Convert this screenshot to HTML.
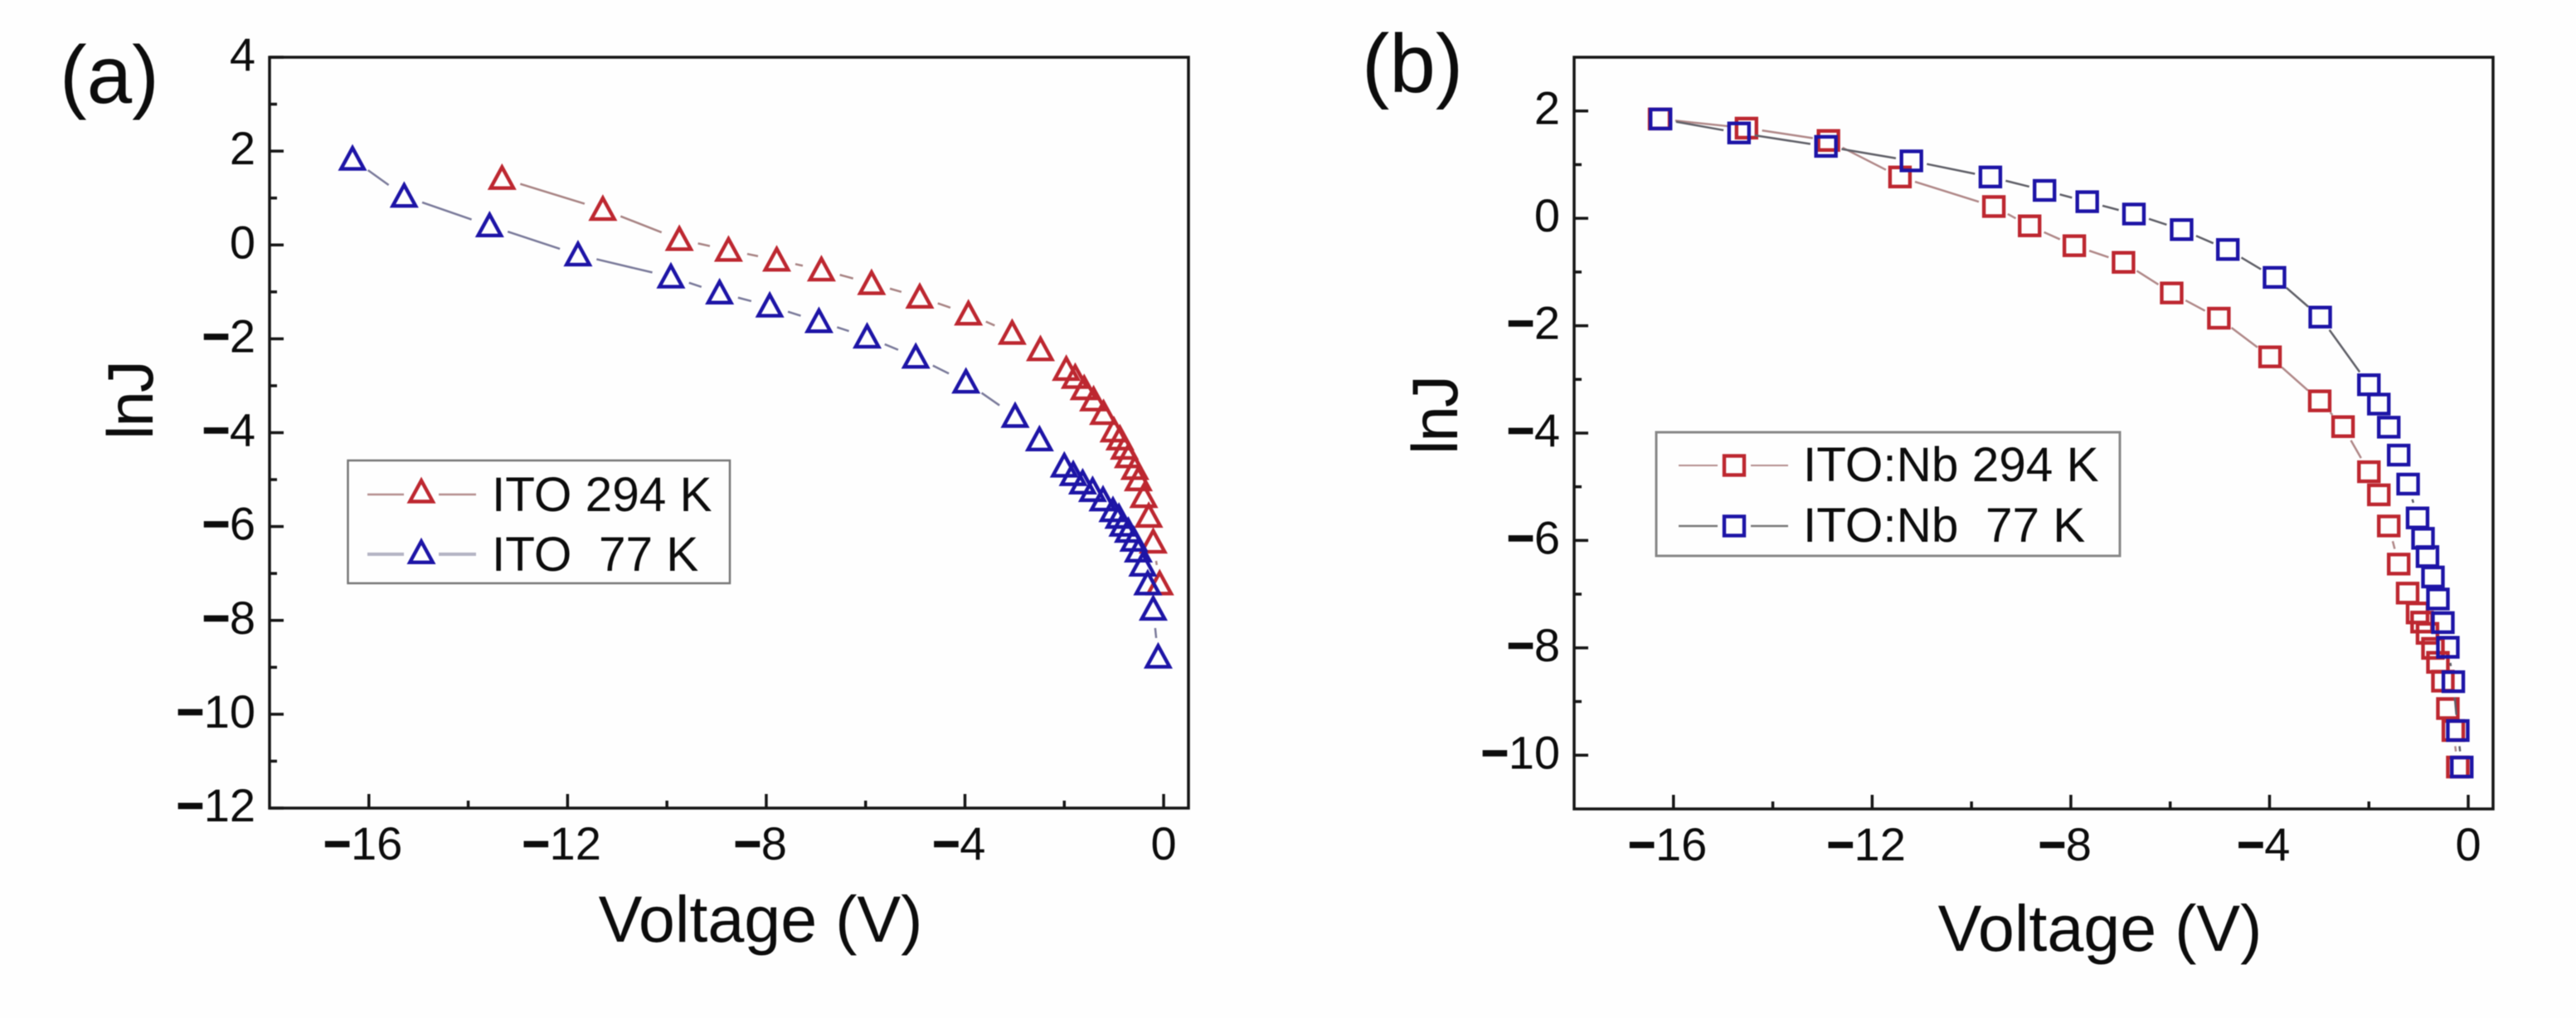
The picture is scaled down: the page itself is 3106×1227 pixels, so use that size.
<!DOCTYPE html>
<html lang="en">
<head>
<meta charset="utf-8">
<title>lnJ versus voltage for ITO and ITO:Nb</title>
<style>
  html, body { margin: 0; padding: 0; background: #fff; }
  svg { display: block; filter: blur(0.6px); }
  text { font-family: "Liberation Sans", Arial, sans-serif; fill: #0c0c0c; white-space: pre; }
</style>
</head>
<body>
<svg id="figure" xmlns="http://www.w3.org/2000/svg" width="3106" height="1227" viewBox="0 0 3106 1227">
  <rect width="3106" height="1227" fill="#fefefe"/>
  <text x="72" y="124" font-size="98">(a)</text>
  <text x="1642" y="111" font-size="100">(b)</text>
  <text x="917" y="1135" font-size="79" text-anchor="middle">Voltage (V)</text>
  <text x="2532" y="1146" font-size="79" text-anchor="middle">Voltage (V)</text>
  <text transform="translate(184 483) rotate(-90)" font-size="78" letter-spacing="-2" text-anchor="middle">lnJ</text>
  <text transform="translate(1757 501) rotate(-90)" font-size="78" letter-spacing="-2" text-anchor="middle">lnJ</text>
  <g id="panel-a"></g>
  <g id="panel-b"></g>
  <g>
    <rect x="419.5" y="555" width="460.5" height="148" fill="none" stroke="#777" stroke-width="2.5"/>
    <g id="legend-a-keys"></g>
    <text x="593" y="616" font-size="58.5">ITO 294 K</text>
    <text x="593" y="688" font-size="58.5">ITO  77 K</text>
  </g>
  <g>
    <rect x="1997" y="521" width="559" height="149" fill="none" stroke="#888" stroke-width="3"/>
    <g id="legend-b-keys"></g>
    <text x="2174" y="580" font-size="58.5">ITO:Nb 294 K</text>
    <text x="2174" y="653" font-size="58.5">ITO:Nb  77 K</text>
  </g>
</svg>
<script>
const xTickLabels = [-16, -12, -8, -4, 0];
const xMinorTicks = [-14, -10, -6, -2];
const panelAYTickLabels = [4, 2, 0, -2, -4, -6, -8, -10, -12];
const panelAYMinorTicks = [3, 1, -1, -3, -5, -7, -9, -11];
const panelBYTickLabels = [2, 0, -2, -4, -6, -8, -10];
const panelBYMinorTicks = [1, -1, -3, -5, -7, -9];

const itoWarmVoltage = [-13.32, -11.29, -9.75, -8.76, -7.79, -6.89, -5.88, -4.91, -3.93, -3.05, -2.48, -1.96, -1.78, -1.60, -1.41, -1.21, -1.00, -0.88, -0.79, -0.71, -0.58, -0.51, -0.40, -0.30, -0.21, -0.08];
const itoWarmLnJ = [1.42, 0.76, 0.12, -0.11, -0.32, -0.53, -0.82, -1.11, -1.47, -1.88, -2.23, -2.65, -2.82, -3.06, -3.30, -3.59, -3.96, -4.13, -4.33, -4.51, -4.76, -5.00, -5.36, -5.78, -6.33, -7.22];
const itoColdVoltage = [-16.33, -15.29, -13.57, -11.79, -9.92, -8.94, -7.93, -6.94, -5.97, -4.99, -3.98, -2.99, -2.50, -2.00, -1.82, -1.63, -1.43, -1.22, -1.02, -0.90, -0.82, -0.71, -0.60, -0.51, -0.42, -0.32, -0.21, -0.11];
const itoColdLnJ = [1.83, 1.04, 0.41, -0.21, -0.68, -1.02, -1.30, -1.63, -1.96, -2.39, -2.92, -3.65, -4.15, -4.71, -4.89, -5.07, -5.23, -5.43, -5.66, -5.80, -5.97, -6.10, -6.29, -6.52, -6.82, -7.22, -7.76, -8.78];

const nbWarmVoltage = [-16.28, -14.53, -12.88, -11.44, -9.55, -8.83, -7.93, -6.94, -5.97, -5.02, -3.99, -2.99, -2.52, -2.00, -1.80, -1.60, -1.40, -1.22, -1.02, -0.93, -0.82, -0.71, -0.61, -0.51, -0.41, -0.30, -0.21];
const nbWarmLnJ = [1.85, 1.68, 1.45, 0.77, 0.22, -0.14, -0.51, -0.82, -1.39, -1.86, -2.58, -3.40, -3.88, -4.72, -5.15, -5.73, -6.44, -6.98, -7.35, -7.52, -7.73, -8.01, -8.27, -8.62, -9.13, -9.54, -10.22];
const nbColdVoltage = [-16.26, -14.68, -12.93, -11.21, -9.62, -8.53, -7.67, -6.73, -5.77, -4.84, -3.90, -2.98, -2.00, -1.80, -1.60, -1.40, -1.21, -1.02, -0.91, -0.82, -0.71, -0.61, -0.51, -0.41, -0.30, -0.21, -0.13];
const nbColdLnJ = [1.85, 1.59, 1.34, 1.07, 0.77, 0.52, 0.31, 0.08, -0.21, -0.58, -1.10, -1.84, -3.10, -3.46, -3.89, -4.41, -4.95, -5.58, -5.96, -6.30, -6.68, -7.09, -7.53, -7.99, -8.63, -9.54, -10.22];

const SVG_NS = 'http://www.w3.org/2000/svg';
const RED = '#bd2730';
const BLUE = '#1d14a6';

function make(parent, tag, attrs) {
  const node = document.createElementNS(SVG_NS, tag);
  for (const key in attrs) node.setAttribute(key, attrs[key]);
  parent.appendChild(node);
  return node;
}

function linearScale(d0, d1, r0, r1) {
  return function (v) { return r0 + (v - d0) * (r1 - r0) / (d1 - d0); };
}

function trianglePoints(cx, cy) {
  return (cx) + ',' + (cy - 13.5) + ' ' + (cx + 13.8) + ',' + (cy + 11.8) + ' ' + (cx - 13.8) + ',' + (cy + 11.8);
}

function drawMarker(parent, shape, cx, cy, color) {
  if (shape === 'triangle') {
    return make(parent, 'polygon', { points: trianglePoints(cx, cy), fill: 'none', stroke: color, 'stroke-width': 4.4, 'stroke-linejoin': 'miter' });
  }
  return make(parent, 'rect', { x: cx - 12, y: cy - 11.5, width: 24, height: 23, fill: 'none', stroke: color, 'stroke-width': 4.4 });
}

function drawNumber(parent, value, x, y, anchor) {
  const label = make(parent, 'text', { x: x, y: y, 'font-size': 56, 'text-anchor': anchor });
  if (value < 0) {
    const sign = make(label, 'tspan', { 'font-weight': 'bold', stroke: '#0c0c0c', 'stroke-width': 1.5 });
    sign.textContent = '\u2212';
    const digits = make(label, 'tspan', {});
    digits.textContent = String(Math.abs(value));
  } else {
    label.textContent = String(value);
  }
  return label;
}

function drawAxes(root, sx, sy, box, yMajor, yMinor) {
  const ink = '#161616';
  xTickLabels.forEach(function (v) {
    const tick = make(root, 'line', { x1: sx(v), x2: sx(v), y1: box.bottom, y2: box.bottom - 17, stroke: ink, 'stroke-width': 3.5 });
    
    
    const label = drawNumber(root, v, sx(v) + (v < 0 ? -7 : 0), box.bottom + 62, 'middle');
    
    
  });
  xMinorTicks.forEach(function (v) {
    const tick = make(root, 'line', { x1: sx(v), x2: sx(v), y1: box.bottom, y2: box.bottom - 9, stroke: ink, 'stroke-width': 3.5 });
    
    
  });
  yMajor.forEach(function (v) {
    const tick = make(root, 'line', { x1: box.left, x2: box.left + 17, y1: sy(v), y2: sy(v), stroke: ink, 'stroke-width': 3.5 });
    
    
    const label = drawNumber(root, v, box.left - 17, sy(v) + 16, 'end');
    
    
  });
  yMinor.forEach(function (v) {
    const tick = make(root, 'line', { x1: box.left, x2: box.left + 9, y1: sy(v), y2: sy(v), stroke: ink, 'stroke-width': 3.5 });
    
    
  });
  const frame = make(root, 'rect', { x: box.left, y: box.top, width: box.right - box.left, height: box.bottom - box.top, fill: 'none', stroke: ink, 'stroke-width': 3.5 });
  
  
}

function drawSeries(root, xs, ys, sx, sy, shape, markerColor, lineColor, gap) {
  const group = make(root, 'g', {});
  
  
  for (let i = 0; i + 1 < xs.length; i++) {
    const ax = sx(xs[i]), ay = sy(ys[i]), bx = sx(xs[i + 1]), by = sy(ys[i + 1]);
    const len = Math.hypot(bx - ax, by - ay);
    if (len <= gap * 2 + 2) continue;
    const ux = (bx - ax) / len, uy = (by - ay) / len;
    const seg = make(group, 'line', { x1: ax + ux * gap, y1: ay + uy * gap, x2: bx - ux * gap, y2: by - uy * gap, stroke: lineColor, 'stroke-width': 2.5 });
    
    
  }
  xs.forEach(function (x, i) {
    const marker = drawMarker(group, shape, sx(x), sy(ys[i]), markerColor);
    
    
  });
}

function drawLegendKey(parent, shape, x1, x2, cx, lineY, markerY, color, lineColor, lineWidth, gap) {
  const left = make(parent, 'line', { x1: x1, x2: cx - gap, y1: lineY, y2: lineY, stroke: lineColor, 'stroke-width': lineWidth });
  
  
  const right = make(parent, 'line', { x1: cx + gap, x2: x2, y1: lineY, y2: lineY, stroke: lineColor, 'stroke-width': lineWidth });
  
  
  const marker = drawMarker(parent, shape, cx, markerY, color);
  
  
}

const boxA = { left: 325, right: 1433, top: 69, bottom: 974 };
const sxA = linearScale(-18, 0.5, boxA.left, boxA.right);
const syA = linearScale(-12, 4, boxA.bottom, boxA.top);
const rootA = document.getElementById('panel-a');
drawAxes(rootA, sxA, syA, boxA, panelAYTickLabels, panelAYMinorTicks);
drawSeries(rootA, itoWarmVoltage, itoWarmLnJ, sxA, syA, 'triangle', RED, '#a88484', 23);
drawSeries(rootA, itoColdVoltage, itoColdLnJ, sxA, syA, 'triangle', BLUE, '#7a7a9a', 23);

const boxB = { left: 1898, right: 3006, top: 69, bottom: 975 };
const sxB = linearScale(-18, 0.5, boxB.left, boxB.right);
const syB = linearScale(-11, 3, boxB.bottom, boxB.top);
const rootB = document.getElementById('panel-b');
drawAxes(rootB, sxB, syB, boxB, panelBYTickLabels, panelBYMinorTicks);
drawSeries(rootB, nbWarmVoltage, nbWarmLnJ, sxB, syB, 'square', RED, '#b08888', 19);
drawSeries(rootB, nbColdVoltage, nbColdLnJ, sxB, syB, 'square', BLUE, '#606068', 19);

const legendA = document.getElementById('legend-a-keys');
drawLegendKey(legendA, 'triangle', 443, 574, 508, 596, 592.7, RED, '#b58f8f', 2.5, 21);
drawLegendKey(legendA, 'triangle', 443, 574, 508, 668, 666, BLUE, '#b4b4c4', 4, 21);
const legendB = document.getElementById('legend-b-keys');
drawLegendKey(legendB, 'square', 2024, 2156, 2091, 561, 561, RED, '#b58f8f', 2, 20);
drawLegendKey(legendB, 'square', 2024, 2156, 2091, 634, 634, BLUE, '#777777', 2.5, 20);
</script>
</body>
</html>
